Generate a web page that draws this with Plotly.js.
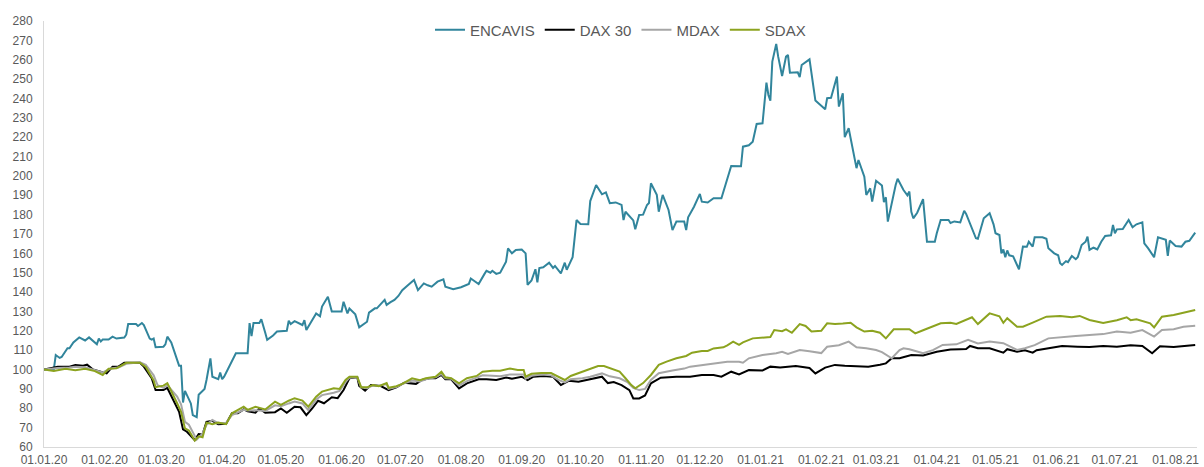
<!DOCTYPE html>
<html>
<head>
<meta charset="utf-8">
<script src="https://cdn.plot.ly/plotly-3.0.1.min.js"></script>
<style>html,body{margin:0;padding:0;background:#fff;}#chart{width:1204px;height:467px;}</style>
</head>
<body>
<div id="chart"></div>
<script>
const seriesNames = ['ENCAVIS', 'DAX 30', 'MDAX', 'SDAX'];

const encDates = ['2020-01-01','2020-01-06','2020-01-07','2020-01-09','2020-01-10','2020-01-13','2020-01-14','2020-01-16','2020-01-19','2020-01-22','2020-01-24','2020-01-28','2020-01-29','2020-01-30','2020-01-31','2020-02-03','2020-02-05','2020-02-07','2020-02-11','2020-02-12','2020-02-13','2020-02-17','2020-02-18','2020-02-20','2020-02-21','2020-02-24','2020-02-25','2020-02-26','2020-02-27','2020-03-02','2020-03-03','2020-03-04','2020-03-06','2020-03-10','2020-03-11','2020-03-12','2020-03-13','2020-03-16','2020-03-17','2020-03-19','2020-03-20','2020-03-23','2020-03-24','2020-03-26','2020-03-27','2020-03-30','2020-03-31','2020-04-01','2020-04-02','2020-04-08','2020-04-14','2020-04-15','2020-04-16','2020-04-17','2020-04-20','2020-04-21','2020-04-23','2020-04-24','2020-04-27','2020-04-29','2020-05-04','2020-05-05','2020-05-06','2020-05-08','2020-05-12','2020-05-13','2020-05-14','2020-05-19','2020-05-21','2020-05-22','2020-05-25','2020-05-27','2020-06-01','2020-06-02','2020-06-04','2020-06-05','2020-06-08','2020-06-10','2020-06-14','2020-06-15','2020-06-18','2020-06-19','2020-06-23','2020-06-24','2020-06-26','2020-06-28','2020-06-30','2020-07-02','2020-07-05','2020-07-08','2020-07-10','2020-07-13','2020-07-15','2020-07-17','2020-07-20','2020-07-23','2020-07-24','2020-07-28','2020-08-01','2020-08-05','2020-08-06','2020-08-08','2020-08-10','2020-08-13','2020-08-14','2020-08-16','2020-08-17','2020-08-19','2020-08-21','2020-08-24','2020-08-25','2020-08-27','2020-08-29','2020-09-01','2020-09-03','2020-09-04','2020-09-06','2020-09-08','2020-09-09','2020-09-10','2020-09-12','2020-09-15','2020-09-17','2020-09-18','2020-09-21','2020-09-23','2020-09-24','2020-09-27','2020-09-29','2020-10-01','2020-10-05','2020-10-06','2020-10-09','2020-10-12','2020-10-14','2020-10-16','2020-10-19','2020-10-22','2020-10-23','2020-10-24','2020-10-26','2020-10-28','2020-10-29','2020-10-31','2020-11-02','2020-11-04','2020-11-05','2020-11-06','2020-11-09','2020-11-10','2020-11-12','2020-11-15','2020-11-17','2020-11-19','2020-11-23','2020-11-24','2020-11-25','2020-11-28','2020-12-01','2020-12-02','2020-12-05','2020-12-08','2020-12-12','2020-12-17','2020-12-22','2020-12-23','2020-12-26','2020-12-28','2020-12-30','2021-01-02','2021-01-04','2021-01-05','2021-01-06','2021-01-07','2021-01-09','2021-01-10','2021-01-12','2021-01-14','2021-01-15','2021-01-16','2021-01-20','2021-01-21','2021-01-22','2021-01-26','2021-01-29','2021-01-30','2021-02-03','2021-02-04','2021-02-06','2021-02-09','2021-02-10','2021-02-12','2021-02-13','2021-02-15','2021-02-19','2021-02-20','2021-02-23','2021-02-24','2021-02-26','2021-02-27','2021-03-01','2021-03-04','2021-03-05','2021-03-06','2021-03-07','2021-03-11','2021-03-12','2021-03-15','2021-03-17','2021-03-18','2021-03-19','2021-03-20','2021-03-22','2021-03-25','2021-03-27','2021-03-31','2021-04-01','2021-04-03','2021-04-07','2021-04-08','2021-04-10','2021-04-13','2021-04-15','2021-04-16','2021-04-18','2021-04-21','2021-04-22','2021-04-25','2021-04-28','2021-04-30','2021-05-01','2021-05-03','2021-05-04','2021-05-05','2021-05-06','2021-05-07','2021-05-08','2021-05-10','2021-05-12','2021-05-13','2021-05-15','2021-05-17','2021-05-18','2021-05-20','2021-05-21','2021-05-25','2021-05-27','2021-05-28','2021-05-31','2021-06-02','2021-06-03','2021-06-04','2021-06-06','2021-06-07','2021-06-09','2021-06-10','2021-06-11','2021-06-12','2021-06-14','2021-06-16','2021-06-17','2021-06-18','2021-06-20','2021-06-21','2021-06-22','2021-06-24','2021-06-26','2021-06-29','2021-06-30','2021-07-01','2021-07-02','2021-07-05','2021-07-07','2021-07-08','2021-07-10','2021-07-12','2021-07-15','2021-07-16','2021-07-18','2021-07-21','2021-07-23','2021-07-26','2021-07-27','2021-07-28','2021-07-29','2021-08-01','2021-08-04','2021-08-06','2021-08-08','2021-08-11'];
const encValues = [100,100,107.5,106,106.5,111,111,114,116.6,115,116.6,113,116,114.5,115.5,115.5,117,116,116.5,118,123.5,123.5,122.5,124,123,116,115.5,116,111.5,111.8,113,117,114,102,102,83,89,82.5,76.5,75.4,87,90,94.6,105.8,96.3,95,98.4,95,96.3,108.4,108.4,124,117.3,124,124,126,119,115.3,117.6,119.6,120,125.2,123.5,125,123,125.5,120.4,129,127.5,132.5,137.6,130,130,135,129,131.5,128.5,121.8,124.7,129.4,131.6,131.6,136,133.4,134.8,136,138,141,143.7,146.3,141,144.5,143.5,142.8,145.4,146.6,142.8,141.5,142.5,144.2,147,145.5,144.2,149.4,151,150,151,149.4,150,155.7,162.6,160,161.8,162,160,143.7,146,151.8,145,152.4,152.8,155.2,152.5,153.5,149.7,155.2,151.5,158,177.2,175.2,175,187,195.3,190.5,191.5,185.9,186.3,185,177.2,181.5,179,177,172.4,179.8,180,185,186,196.2,190.2,181.5,190.2,182.4,172,176.4,176.4,172,178.6,184.1,190.7,186.7,186.3,188.5,188.5,205.1,205,215.1,215.8,217.7,226.8,227.2,248.2,241.8,238.9,259,268.2,261.6,251.6,261.6,262.5,253.3,253.5,251,257.3,260.2,238.9,238,234.4,240.1,240.3,251.3,235.8,242.7,220,224.6,204,208.2,199.6,190.2,193.6,186.7,197.5,195,186.5,189,176.4,195.3,198.5,192.7,190,191.9,181.5,178.1,181,188,166,166,170.4,177.2,177.2,175.7,176.5,176,182,180.4,175.5,167.8,167.5,178.1,180.7,175,170.4,169.5,160,162,158,161.5,159,158.5,154,151.8,163.5,163.4,166,163.5,168.3,168.3,167.5,162.6,160,159,154.9,154,156,155.5,158.7,158,157,158,164.3,166,168.6,161.8,163,162.5,162,166,169,169.3,174.7,170.4,172.4,172.6,175.5,177.2,173.5,175,176,165.2,162.6,158,168.3,167.6,167,158.7,166.6,163.8,163.5,166,166.5,170.7];

const daxDates = ['2020-01-01','2020-01-08','2020-01-14','2020-01-17','2020-01-21','2020-01-23','2020-01-26','2020-01-29','2020-02-02','2020-02-05','2020-02-08','2020-02-11','2020-02-19','2020-02-21','2020-02-25','2020-02-27','2020-03-02','2020-03-04','2020-03-07','2020-03-10','2020-03-12','2020-03-14','2020-03-18','2020-03-20','2020-03-22','2020-03-24','2020-03-27','2020-03-30','2020-04-03','2020-04-06','2020-04-09','2020-04-12','2020-04-14','2020-04-18','2020-04-20','2020-04-23','2020-04-28','2020-05-01','2020-05-04','2020-05-08','2020-05-11','2020-05-14','2020-05-17','2020-05-20','2020-05-23','2020-05-27','2020-05-30','2020-06-02','2020-06-05','2020-06-09','2020-06-10','2020-06-13','2020-06-16','2020-06-21','2020-06-25','2020-06-29','2020-07-03','2020-07-06','2020-07-09','2020-07-12','2020-07-16','2020-07-19','2020-07-22','2020-07-24','2020-07-27','2020-07-31','2020-08-04','2020-08-10','2020-08-14','2020-08-19','2020-08-24','2020-08-27','2020-09-01','2020-09-04','2020-09-07','2020-09-12','2020-09-17','2020-09-21','2020-09-25','2020-09-30','2020-10-06','2020-10-12','2020-10-15','2020-10-18','2020-10-22','2020-10-26','2020-10-28','2020-10-31','2020-11-03','2020-11-06','2020-11-11','2020-11-19','2020-11-26','2020-12-02','2020-12-08','2020-12-12','2020-12-17','2020-12-21','2020-12-26','2021-01-02','2021-01-06','2021-01-11','2021-01-15','2021-01-19','2021-01-26','2021-01-29','2021-02-03','2021-02-08','2021-02-13','2021-02-19','2021-02-25','2021-03-03','2021-03-06','2021-03-09','2021-03-13','2021-03-19','2021-03-25','2021-04-01','2021-04-08','2021-04-13','2021-04-16','2021-04-18','2021-04-22','2021-04-28','2021-05-05','2021-05-07','2021-05-12','2021-05-16','2021-05-20','2021-05-22','2021-05-28','2021-06-04','2021-06-12','2021-06-18','2021-06-25','2021-07-02','2021-07-09','2021-07-15','2021-07-20','2021-07-24','2021-07-31','2021-08-05','2021-08-11'];
const daxValues = [100,101.5,101.5,102.3,102,102.5,100,99,98,101.5,101.5,103.5,103.5,101.5,95.5,89.4,89.4,90.5,84.3,78.2,69.1,67.9,63.6,66.7,66.5,73,73.5,71.8,72,77.4,77.4,79.4,78.5,77.7,79.9,77.7,78,79.9,77.7,80.8,80.5,76.5,80,83.9,82.6,85.7,85.2,89.4,95.5,96,91.5,89.1,92,91.5,89.4,90.8,93.2,93,92.6,94.6,95.5,95.5,97.2,95,95,90.3,92.9,95,95,94.6,95.9,95.3,96.3,94.6,96.3,96.7,96.3,92,94.2,93.7,95,96.3,93,93.5,92,89.4,85.1,85.1,86.6,92.9,95.8,96.3,96.3,97.2,97.2,96.3,98.9,97.5,99.7,99.5,101.5,101,101.5,101.8,100.8,98,101,102.4,102,101.8,101.5,102.5,103.2,105.8,105.8,107.5,107.3,109.2,110.4,110.5,110.6,112.2,111,111,108.7,110.5,109.2,110,108.7,110,111,112.2,111.8,111.6,112.2,111.8,112.6,112.2,108.4,112,111.6,112,112.7];

const mdaxDates = ['2020-01-01','2020-01-08','2020-01-14','2020-01-17','2020-01-22','2020-01-27','2020-01-31','2020-02-04','2020-02-08','2020-02-12','2020-02-19','2020-02-22','2020-02-26','2020-02-28','2020-03-02','2020-03-04','2020-03-09','2020-03-11','2020-03-13','2020-03-15','2020-03-18','2020-03-19','2020-03-22','2020-03-24','2020-03-27','2020-03-30','2020-04-03','2020-04-06','2020-04-12','2020-04-14','2020-04-18','2020-04-23','2020-04-28','2020-05-01','2020-05-05','2020-05-08','2020-05-12','2020-05-15','2020-05-19','2020-05-22','2020-05-28','2020-05-31','2020-06-03','2020-06-05','2020-06-09','2020-06-11','2020-06-14','2020-06-17','2020-06-20','2020-06-24','2020-06-25','2020-06-29','2020-07-02','2020-07-07','2020-07-11','2020-07-14','2020-07-19','2020-07-22','2020-07-24','2020-07-27','2020-07-31','2020-08-04','2020-08-09','2020-08-12','2020-08-17','2020-08-21','2020-08-26','2020-08-30','2020-09-02','2020-09-03','2020-09-06','2020-09-11','2020-09-16','2020-09-20','2020-09-23','2020-09-26','2020-10-02','2020-10-06','2020-10-12','2020-10-16','2020-10-21','2020-10-25','2020-10-28','2020-10-31','2020-11-03','2020-11-06','2020-11-10','2020-11-17','2020-11-23','2020-11-26','2020-12-03','2020-12-09','2020-12-15','2020-12-21','2020-12-23','2020-12-26','2021-01-02','2021-01-09','2021-01-12','2021-01-15','2021-01-21','2021-01-26','2021-02-01','2021-02-04','2021-02-10','2021-02-15','2021-02-19','2021-02-24','2021-03-01','2021-03-04','2021-03-09','2021-03-13','2021-03-15','2021-03-18','2021-03-25','2021-03-30','2021-04-04','2021-04-11','2021-04-17','2021-04-22','2021-04-28','2021-05-05','2021-05-08','2021-05-12','2021-05-16','2021-05-21','2021-05-28','2021-06-04','2021-06-11','2021-06-18','2021-06-25','2021-07-02','2021-07-09','2021-07-15','2021-07-21','2021-07-25','2021-07-31','2021-08-05','2021-08-11'];
const mdaxValues = [100,100.8,101,101.5,101.2,99.8,98.5,100.5,101,103,103.8,102.5,97,92,90.5,92,86,82,73,71.5,66,63.8,67,71.5,74,72.3,72.5,76.5,79.2,78.8,79,78.6,81.5,81,82.5,83.5,82.5,79,84.5,86.8,88,89,93.5,95.8,96,90.8,90.3,91.8,91.5,92.6,90,91,92.5,94.3,93.8,95,96,97.7,95.5,95.3,91.8,94,95.8,97,96.8,96.5,97.5,97.3,97.5,95.3,96.8,97.5,97,94.5,93.3,95,95.5,96.3,98,96.5,95.5,93.5,90.5,89.4,90,94.6,98.1,99.5,100.5,101.5,102.3,103,104,104,103.5,105.8,107.5,108.4,109.2,108,110.1,109.5,108.5,111.8,112.6,114.4,111.5,111,110.1,109,105.8,110,111,110.5,108.4,110,112.7,113,115.3,113.5,114.5,113.6,112,110.1,111,112.6,116.1,116.8,117.3,117.8,118.3,119.6,119,120.4,117,120.4,120.8,122.1,122.6];

const sdaxDates = ['2020-01-01','2020-01-06','2020-01-12','2020-01-17','2020-01-22','2020-01-27','2020-01-31','2020-02-03','2020-02-07','2020-02-12','2020-02-19','2020-02-22','2020-02-26','2020-02-27','2020-03-02','2020-03-04','2020-03-09','2020-03-11','2020-03-13','2020-03-15','2020-03-18','2020-03-20','2020-03-22','2020-03-24','2020-03-27','2020-03-30','2020-04-03','2020-04-06','2020-04-12','2020-04-14','2020-04-18','2020-04-23','2020-04-28','2020-05-01','2020-05-05','2020-05-08','2020-05-12','2020-05-15','2020-05-19','2020-05-22','2020-05-28','2020-05-31','2020-06-03','2020-06-05','2020-06-09','2020-06-11','2020-06-14','2020-06-17','2020-06-20','2020-06-24','2020-06-25','2020-06-29','2020-07-02','2020-07-07','2020-07-11','2020-07-14','2020-07-19','2020-07-22','2020-07-24','2020-07-27','2020-07-31','2020-08-04','2020-08-09','2020-08-12','2020-08-17','2020-08-21','2020-08-26','2020-08-30','2020-09-02','2020-09-03','2020-09-06','2020-09-11','2020-09-16','2020-09-20','2020-09-23','2020-09-26','2020-10-02','2020-10-06','2020-10-10','2020-10-13','2020-10-16','2020-10-21','2020-10-24','2020-10-27','2020-10-29','2020-11-02','2020-11-06','2020-11-10','2020-11-14','2020-11-19','2020-11-24','2020-11-27','2020-12-02','2020-12-05','2020-12-08','2020-12-13','2020-12-15','2020-12-18','2020-12-21','2020-12-23','2020-12-28','2021-01-02','2021-01-06','2021-01-08','2021-01-12','2021-01-14','2021-01-17','2021-01-21','2021-01-24','2021-01-27','2021-02-01','2021-02-04','2021-02-08','2021-02-12','2021-02-16','2021-02-19','2021-02-23','2021-02-27','2021-03-03','2021-03-06','2021-03-10','2021-03-18','2021-03-21','2021-03-25','2021-04-03','2021-04-08','2021-04-11','2021-04-19','2021-04-22','2021-04-28','2021-05-03','2021-05-05','2021-05-07','2021-05-12','2021-05-15','2021-05-20','2021-05-27','2021-06-03','2021-06-09','2021-06-13','2021-06-18','2021-06-25','2021-07-02','2021-07-07','2021-07-09','2021-07-12','2021-07-19','2021-07-21','2021-07-25','2021-07-31','2021-08-05','2021-08-11'];
const sdaxValues = [100,99.2,100.4,99.7,100.4,99.2,97.2,100.4,100.6,103.5,103.5,101.3,94.4,90.9,91.7,93,82.6,78.2,69.6,68.5,63.3,65.5,65,72.6,71.8,72.6,71.8,77.4,80.8,79.2,80.8,79.4,83.4,81.7,83.9,85.2,84,80.8,86,88.6,90.3,90,94.6,96.3,96.3,90.8,90.8,92,91.4,93,90.6,91.4,92.6,95.5,94.5,95.5,96.3,98.9,96,95.5,92.9,95.5,96.7,98.9,99.4,99.4,100.5,99.8,99.8,96.3,97.8,98.2,98.2,96.3,94.6,96.7,98.9,100.6,101.8,101.8,100.6,98.9,95.5,92,90.3,93,97.2,102.4,104.1,105.8,107,108.7,109.6,109.6,110.9,111.5,112.5,114.4,112.8,114,116.1,116.6,116.8,120.4,119.8,120.8,119,123.5,122.5,119.6,120,123.9,123.5,123.8,124.2,121.8,119.6,120,119,116.1,120.8,120.8,118.7,120.3,123.9,124.2,123.5,127,123.5,129,127.5,124.1,126.5,122.1,122.1,124.2,127.3,127.7,127,127.7,125.6,124,125.5,127,125.5,126,123.9,121.8,127.3,128.2,129.4,130.8];

const monthTicks = ['2020-01-01','2020-02-01','2020-03-01','2020-04-01','2020-05-01','2020-06-01','2020-07-01','2020-08-01','2020-09-01','2020-10-01','2020-11-01','2020-12-01','2021-01-01','2021-02-01','2021-03-01','2021-04-01','2021-05-01','2021-06-01','2021-07-01','2021-08-01'];
const monthLabels = ['01.01.20','01.02.20','01.03.20','01.04.20','01.05.20','01.06.20','01.07.20','01.08.20','01.09.20','01.10.20','01.11.20','01.12.20','01.01.21','01.02.21','01.03.21','01.04.21','01.05.21','01.06.21','01.07.21','01.08.21'];

const colors = ['#31859C', '#000000', '#A6A6A6', '#8CA31F'];
const xs = [encDates, daxDates, mdaxDates, sdaxDates];
const ys = [encValues, daxValues, mdaxValues, sdaxValues];

const traces = seriesNames.map((n, i) => ({
  type: 'scatter', mode: 'lines', name: n,
  x: xs[i], y: ys[i],
  line: {color: colors[i], width: 2}
}));

const font = {family: 'Liberation Sans, Arial, sans-serif', color: '#595959', size: 12};

const layout = {
  width: 1204, height: 467,
  margin: {l: 44, r: 7, t: 21, b: 20, pad: 0},
  paper_bgcolor: '#ffffff', plot_bgcolor: '#ffffff',
  font: font,
  showlegend: true,
  legend: {orientation: 'h', x: 0.5, xanchor: 'center', y: 0.979, yanchor: 'middle',
           font: {family: 'Liberation Sans, Arial, sans-serif', size: 15, color: '#595959'},
           bgcolor: 'rgba(255,255,255,0)', itemwidth: 30, tracegroupgap: 0},
  xaxis: {type: 'date', range: ['2020-01-01', '2021-08-11 22:00'],
          tickmode: 'array', tickvals: monthTicks, ticktext: monthLabels,
          showgrid: false, zeroline: false, showline: true, linecolor: '#D9D9D9', linewidth: 1,
          ticks: '', tickfont: {size: 12, color: '#595959'}, ticklabelstandoff: 2},
  yaxis: {range: [60, 280], dtick: 10, tick0: 60,
          showgrid: false, zeroline: false, showline: true, linecolor: '#D9D9D9', linewidth: 1,
          ticks: '', tickfont: {size: 12, color: '#595959'}, ticklabelstandoff: 8}
};

Plotly.newPlot('chart', traces, layout, {displayModeBar: false, staticPlot: true});
</script>
</body>
</html>
